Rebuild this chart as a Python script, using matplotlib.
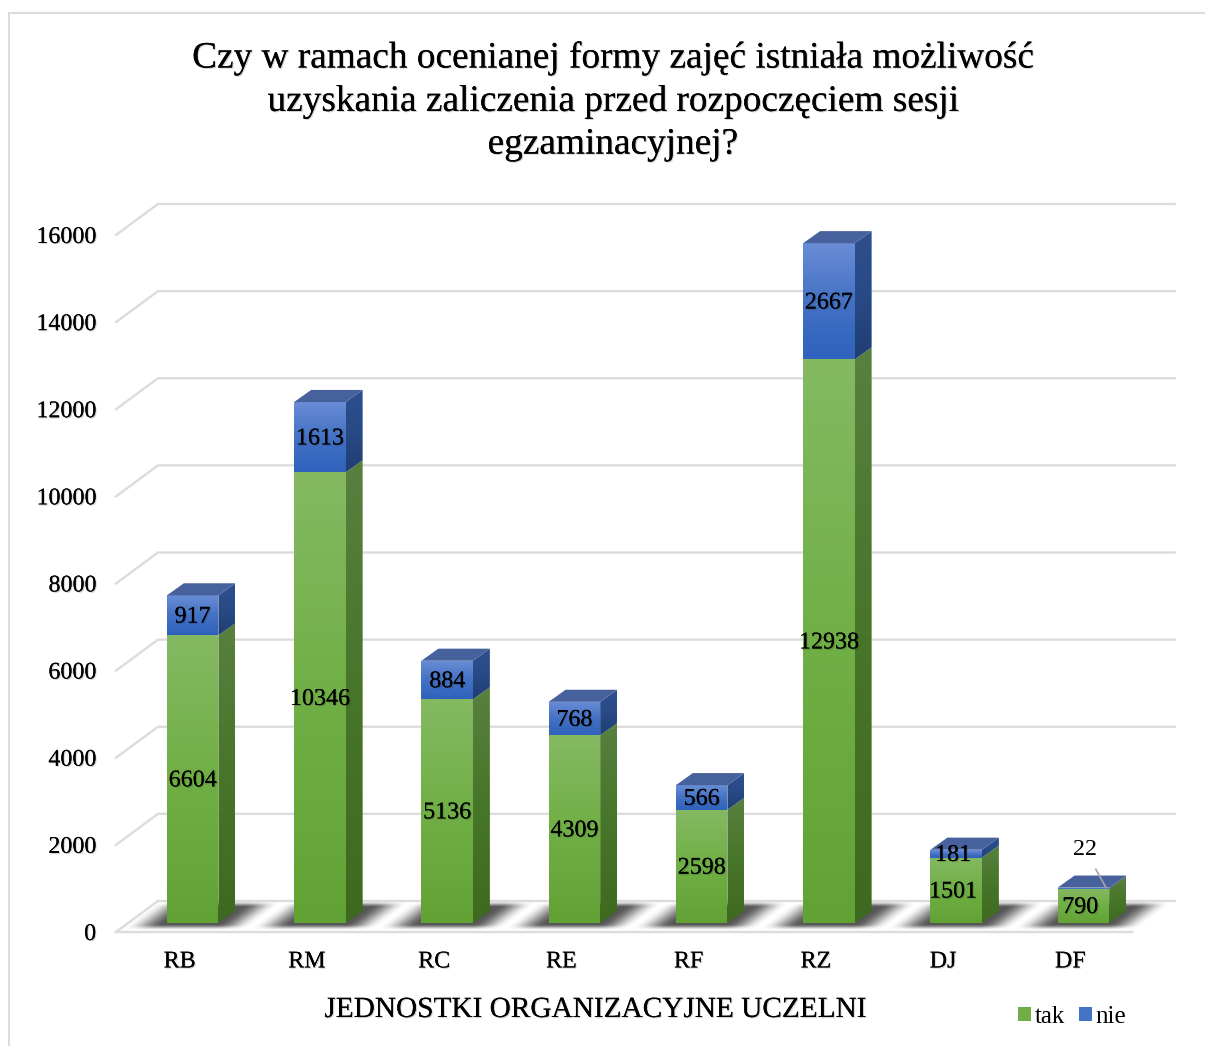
import numpy as np
import matplotlib
matplotlib.use("Agg")
import matplotlib.pyplot as plt
import matplotlib.patheffects as pe
from matplotlib.patches import Polygon, Rectangle, Patch

categories = ["RB", "RM", "RC", "RE", "RF", "RZ", "DJ", "DF"]
tak = [6604, 10346, 5136, 4309, 2598, 12938, 1501, 790]
nie = [917, 1613, 884, 768, 566, 2667, 181, 22]
yticks = [0, 2000, 4000, 6000, 8000, 10000, 12000, 14000, 16000]

title = ("Czy w ramach ocenianej formy zajęć istniała możliwość\n"
         "uzyskania zaliczenia przed rozpoczęciem sesji\n"
         "egzaminacyjnej?")
xlabel = "JEDNOSTKI ORGANIZACYJNE UCZELNI"

W, H = 1205, 1046
GRID = "#dcdcdc"
# fake 3D: how far one full unit of depth moves a point, in data units
DEPTH_X = 42 / 127.25
DEPTH_Y = 712
BAR_W = 0.405
Z_FRONT_X, Z_BACK_X = 0.31, 0.714
Z_FRONT_Y, Z_BACK_Y = 0.29, 0.68

GREEN_FRONT = ["#84b962", "#70af45", "#62a235"]
GREEN_SIDE = ["#58803f", "#477529", "#3e6a20"]
BLUE_FRONT = ["#6a8dd6", "#4472c4", "#2f62bd"]
BLUE_SIDE = ["#2f4f8f", "#284a86", "#203e74"]
BLUE_TOP = "#47619c"

plt.rcParams["font.family"] = ["Liberation Serif", "DejaVu Serif"]
plt.rcParams["axes.unicode_minus"] = False

fig = plt.figure(figsize=(W / 100, H / 100), dpi=100, facecolor="white")
ax = fig.add_axes([116 / W, (H - 932) / H, 1018 / W, 697 / H])
ax.set_xlim(-0.5, 7.5)
ax.set_ylim(0, 16000)
ax.patch.set_visible(False)
for s in ax.spines.values():
    s.set_visible(False)


def soft(t):
    t = np.clip(t, 0, 1)
    return t ** 2 * (3 - 2 * t)


def color_ramp(colors, n=64):
    rgb = np.array([matplotlib.colors.to_rgb(c) for c in colors])
    pos = np.linspace(0, 1, len(colors))
    t = np.linspace(0, 1, n)
    return np.stack([np.interp(t, pos, rgb[:, k]) for k in range(3)], axis=1)[:, None, :]


def fill_gradient(points, colors, zorder):
    # vertical gradient image clipped to a polygon
    pts = np.array(points)
    im = ax.imshow(color_ramp(colors), aspect="auto", origin="upper", zorder=zorder,
                   extent=[pts[:, 0].min(), pts[:, 0].max(), pts[:, 1].min(), pts[:, 1].max()],
                   interpolation="bilinear")
    im.set_clip_path(Polygon(points, transform=ax.transData))
    im.set_clip_box(fig.bbox)


def draw_shadow(center, zorder):
    xs = np.linspace(center - 0.6, center + 1.1, 200)
    ys = np.linspace(0, 800, 80)
    X, Y = np.meshgrid(xs, ys)
    z = Y / DEPTH_Y
    flat = X - DEPTH_X * z - center
    a = soft((flat + 0.5) / 0.3) * soft((0.5 - flat) / 0.28)
    a = a * soft((z - 0.05) / 0.2) * soft((1.0 - z) / 0.2)
    img = np.zeros(X.shape + (4,))
    img[..., :3] = 0.22
    img[..., 3] = 0.85 * a
    im = ax.imshow(img, aspect="auto", origin="lower", zorder=zorder,
                   extent=[xs[0], xs[-1], ys[0], ys[-1]], interpolation="bilinear")
    im.set_clip_box(fig.bbox)


def draw_box(x, y0, y1, front, side, zorder):
    left, right = x - BAR_W / 2, x + BAR_W / 2
    dx0, dy0 = DEPTH_X * Z_FRONT_X, DEPTH_Y * Z_FRONT_Y
    dx1, dy1 = DEPTH_X * Z_BACK_X, DEPTH_Y * Z_BACK_Y
    fill_gradient([(left + dx0, y0 + dy0), (right + dx0, y0 + dy0),
                   (right + dx0, y1 + dy0), (left + dx0, y1 + dy0)], front, zorder + 0.001)
    fill_gradient([(right + dx0, y0 + dy0), (right + dx1, y0 + dy1),
                   (right + dx1, y1 + dy1), (right + dx0, y1 + dy0)], side, zorder)


def draw_top(x, y, color, zorder):
    left, right = x - BAR_W / 2, x + BAR_W / 2
    dx0, dy0 = DEPTH_X * Z_FRONT_X, DEPTH_Y * Z_FRONT_Y
    dx1, dy1 = DEPTH_X * Z_BACK_X, DEPTH_Y * Z_BACK_Y
    ax.add_patch(Polygon([(left + dx0, y + dy0), (right + dx0, y + dy0),
                          (right + dx1, y + dy1), (left + dx1, y + dy1)],
                         facecolor=color, edgecolor="none", zorder=zorder, clip_on=False))


# walls and floor
for v in yticks:
    ax.plot([-0.5, -0.5 + DEPTH_X, 7.49 + DEPTH_X], [v, v + DEPTH_Y, v + DEPTH_Y],
            color=GRID, lw=1.7, clip_on=False, zorder=1, solid_joinstyle="miter")
ax.plot([-0.5, 7.485], [0, 0], color=GRID, lw=1.7, clip_on=False, zorder=1)

positions = np.arange(len(categories))
for x in positions:
    draw_shadow(x, 2)

shadow = [pe.withSimplePatchShadow(offset=(0.8, -0.8), shadow_rgbFace="#000000", alpha=0.18),
          pe.Normal()]

for i, x in enumerate(positions):
    t, n = tak[i], nie[i]
    base = 3 + i * 0.1
    draw_box(x, 0, t, GREEN_FRONT, GREEN_SIDE, base)
    draw_box(x, t, t + n, BLUE_FRONT, BLUE_SIDE, base + 0.01)
    draw_top(x, t + n, BLUE_TOP, base + 0.02)

    cx = x + DEPTH_X * Z_FRONT_X
    if i >= 6:
        cx -= 0.025  # the two short bars have their labels pushed a bit left
    cy = DEPTH_Y * Z_FRONT_Y - 40
    ax.text(cx, t / 2 + cy, str(t), ha="center", va="center", fontsize=17.3, color="black",
            zorder=6, clip_on=False, path_effects=shadow)
    if n < 100:
        # too thin for a label inside, so it gets a leader line
        ax.annotate(str(n), xy=(x + 0.28, t + n + cy + 40),
                    xytext=(x + 0.115, t + n + cy + 910), ha="center", va="center",
                    fontsize=17.3, color="black", zorder=6, annotation_clip=False,
                    arrowprops=dict(arrowstyle="-", color="#a6a6a6", lw=1.2, shrinkA=5, shrinkB=0))
    else:
        ax.text(cx, t + n / 2 + cy, str(n), ha="center", va="center", fontsize=17.3, color="black",
                zorder=6, clip_on=False, path_effects=shadow)

ax.set_xticks(positions, categories)
ax.set_yticks(yticks, [str(v) for v in yticks])
ax.tick_params(axis="x", length=0, pad=14, labelsize=17.3)
ax.tick_params(axis="y", length=0, pad=14.4, labelsize=17.3)
for lab in ax.get_xticklabels() + ax.get_yticklabels():
    lab.set_path_effects(shadow)

ax.set_xlabel(xlabel, fontsize=21.1, color="black", va="center", path_effects=shadow)
ax.xaxis.set_label_coords((595 - 116) / 1018, -(1010 - 932) / 697)

fig.suptitle(title, x=613 / W, y=1 - 101 / H, va="center", ha="center", fontsize=26.85,
             linespacing=1.31, color="black", path_effects=shadow)

# chart frame, runs off the right and bottom of the picture
fig.add_artist(Rectangle((9 / W, -0.01), 1.1, 1.01 - 13 / H, transform=fig.transFigure,
                         facecolor="none", edgecolor=GRID, lw=1.5, clip_on=True))

handles = [Patch(facecolor="#70ad47", label="tak"), Patch(facecolor="#4472c4", label="nie")]
fig.legend(handles=handles, loc="center left", bbox_to_anchor=(1018 / W, 1 - 1017 / H), ncol=2,
           frameon=False, fontsize=18, handlelength=0.52, handleheight=0.52,
           handletextpad=0.15, columnspacing=0.55, borderpad=0, borderaxespad=0)

fig.savefig("out.png", dpi=100)
